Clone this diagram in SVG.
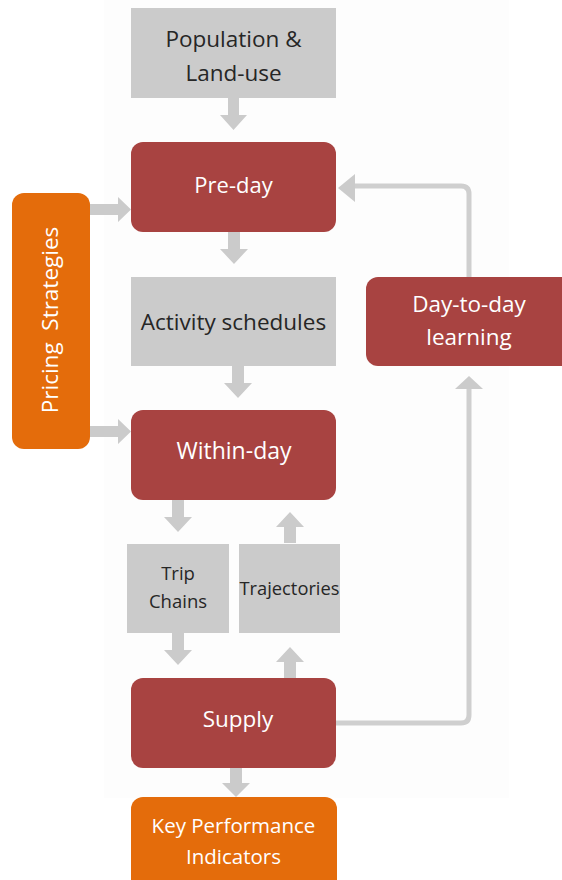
<svg xmlns="http://www.w3.org/2000/svg" width="562" height="880" viewBox="0 0 562 880">
<style>
.grey{fill:#cbcbcb}
.red{fill:#a84341}
.orange{fill:#e46c0b}
.arr{fill:#cbcbcb}
.dk{font-family:"Open Sans","Liberation Sans",sans-serif;fill:#262626;text-anchor:middle}
.wt{font-family:"Open Sans","Liberation Sans",sans-serif;fill:#ffffff;text-anchor:middle}
.line{fill:none;stroke:#cfcfcf;stroke-width:5;stroke-linejoin:round}
</style>
<rect x="0" y="0" width="562" height="880" fill="#ffffff"/>
<rect x="104" y="0" width="405" height="798" fill="#fdfdfd"/>
<g id="connectors">
  <path class="arr" d="M228,98 H239 V115 H247 L233.5,130 L220,115 H228 Z"/>
  <path class="arr" d="M228,232 H240 V249 H248 L234,264 L220,249 H228 Z"/>
  <path class="arr" d="M232,366 H244 V383 H252 L238,398 L224,383 H232 Z"/>
  <path class="arr" d="M90,204 H118 V197 L131,209.5 L118,222 V215 H90 Z"/>
  <path class="arr" d="M90,426 H118 V419 L131,431.5 L118,444 V437 H90 Z"/>
  <path class="arr" d="M172,500 H184 V517 H192 L178,532 L164,517 H172 Z"/>
  <path class="arr" d="M284,543 H296 V527 H304 L290,512 L276,527 H284 Z"/>
  <path class="arr" d="M172,633 H184 V650 H192 L178,665 L164,650 H172 Z"/>
  <path class="arr" d="M284,678 H296 V662 H304 L290,647 L276,662 H284 Z"/>
  <path class="arr" d="M230,768 H242 V783 H250 L236,797 L222,783 H230 Z"/>
  <path class="line" d="M336,723 H461 Q469,723 469,715 V386"/>
  <path class="arr" d="M469,376 L483,389 H455 Z"/>
  <path class="line" d="M469,277 V194 Q469,186 461,186 H352"/>
  <path class="arr" d="M338,188 L355,174 V202 Z"/>
</g>
<g id="population">
  <rect class="grey" x="131" y="8" width="205" height="90"/>
  <text class="dk" x="233.5" y="47" font-size="22.5">Population &amp;</text>
  <text class="dk" x="233.5" y="81" font-size="22.5">Land-use</text>
</g>
<g id="preday">
  <rect class="red" x="131" y="142" width="205" height="90" rx="12"/>
  <text class="wt" x="233.5" y="193" font-size="22">Pre-day</text>
</g>
<g id="pricing">
  <rect class="orange" x="12" y="193" width="78" height="256" rx="12"/>
  <text class="wt" x="0" y="0" font-size="22.5" transform="translate(58,320) rotate(-90)" xml:space="preserve">Pricing  Strategies</text>
</g>
<g id="activity">
  <rect class="grey" x="131" y="277" width="205" height="89"/>
  <text class="dk" x="233.5" y="330" font-size="22.5">Activity schedules</text>
</g>
<g id="daytoday">
  <rect class="red" x="366" y="277" width="210" height="89" rx="12"/>
  <text class="wt" x="469" y="312" font-size="22.5">Day-to-day</text>
  <text class="wt" x="469" y="345" font-size="22.5">learning</text>
</g>
<g id="withinday">
  <rect class="red" x="131" y="410" width="205" height="90" rx="12"/>
  <text class="wt" x="234" y="459" font-size="23">Within-day</text>
</g>
<g id="tripchains">
  <rect class="grey" x="127" y="544" width="102" height="89"/>
  <text class="dk" x="178" y="580" font-size="18.5">Trip</text>
  <text class="dk" x="178" y="608" font-size="18.5">Chains</text>
</g>
<g id="trajectories">
  <rect class="grey" x="239" y="544" width="101" height="89"/>
  <text class="dk" x="289.5" y="595" font-size="18.3">Trajectories</text>
</g>
<g id="supply">
  <rect class="red" x="131" y="678" width="205" height="90" rx="12"/>
  <text class="wt" x="238" y="727" font-size="22.5">Supply</text>
</g>
<g id="kpi">
  <rect class="orange" x="131" y="797" width="206" height="100" rx="12"/>
  <text class="wt" x="233.5" y="833" font-size="20.5">Key Performance</text>
  <text class="wt" x="233.5" y="864" font-size="20.5">Indicators</text>
</g>
</svg>
